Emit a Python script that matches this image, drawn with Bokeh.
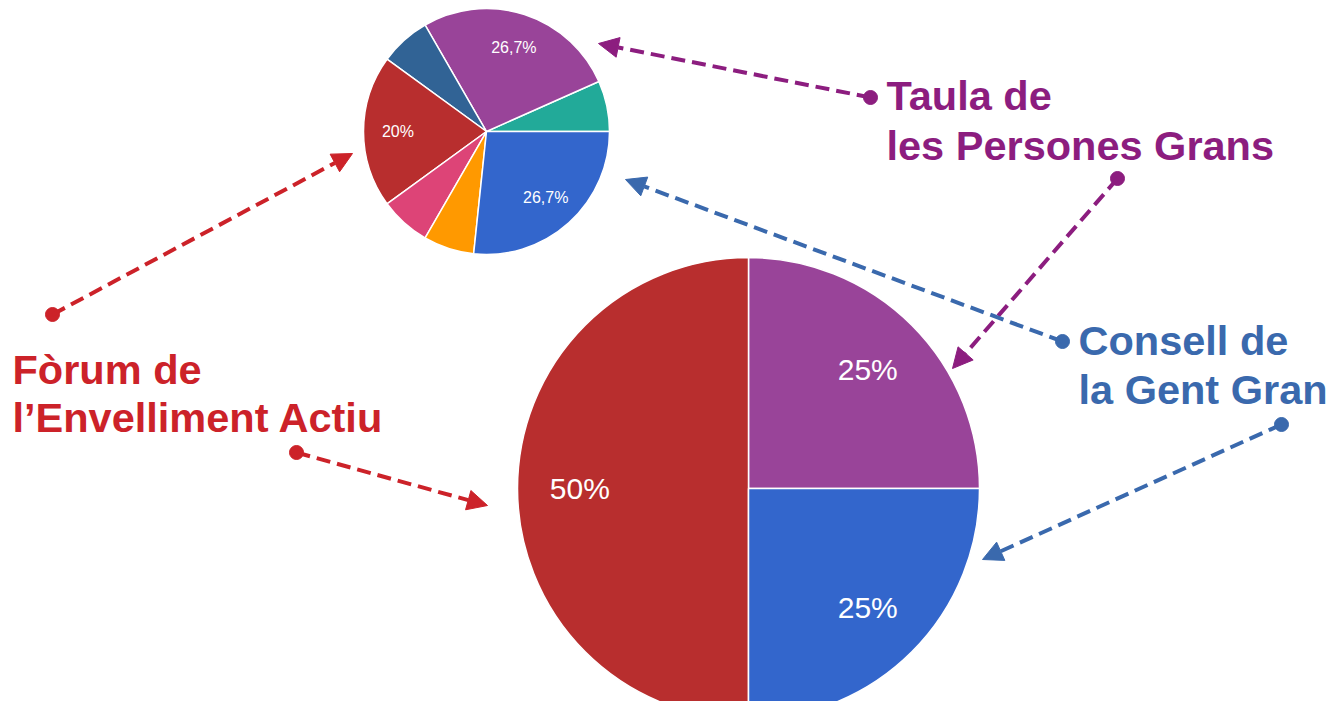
import math
from bokeh.plotting import figure
from bokeh.models import Range1d, Arrow, NormalHead, ColumnDataSource
from bokeh.core.properties import value
from bokeh.embed import file_html
from bokeh.resources import INLINE

# ---------------- data ----------------
small_slices = ["Verd", "Taula de les Persones Grans", "Blau fosc", "Fòrum de l’Envelliment Actiu",
                "Rosa", "Taronja", "Consell de la Gent Gran"]
small_values = [1, 4, 1, 3, 1, 1, 4]
small_colors = ["#22AA99", "#994499", "#316395", "#B82E2E", "#DD4477", "#FF9900", "#3366CC"]

big_slices = ["Taula de les Persones Grans", "Fòrum de l’Envelliment Actiu", "Consell de la Gent Gran"]
big_values = [1, 2, 1]
big_colors = ["#994499", "#B82E2E", "#3366CC"]

label_lines = {
    "taula": ["Taula de", "les Persones Grans"],
    "forum": ["Fòrum de", "l’Envelliment Actiu"],
    "consell": ["Consell de", "la Gent Gran"],
}

W, H = 1343, 717
PW, PH = W - 16, H - 16


def Y(y_img):
    return H - y_img


p = figure(width=PW, height=PH,
           x_range=Range1d(0, PW), y_range=Range1d(H - PH, H),
           output_backend="svg", toolbar_location=None, min_border=0,
           x_axis_type=None, y_axis_type=None)
p.grid.visible = False
p.outline_line_color = None
p.background_fill_color = "white"
p.border_fill_color = "white"


def fmt(pct):
    s = f"{pct:.1f}"
    if s.endswith(".0"):
        s = s[:-2]
    return s.replace(".", ",") + "%"


def pie(cx, cy, r, values, colors, names, font_px, label_r=0.73, min_pct=10):
    total = float(sum(values))
    starts, ends = [], []
    a = 0.0
    for v in values:
        starts.append(a)
        a += v / total * 2 * math.pi
        ends.append(a)
    src = ColumnDataSource(dict(x=[cx] * len(values), y=[cy] * len(values),
                                start=starts, end=ends, color=colors, name=names))
    p.wedge(x="x", y="y", radius=r, start_angle="start", end_angle="end",
            fill_color="color", line_color="white", line_width=1.5, source=src)
    lx, ly, lt = [], [], []
    for v, s0, s1 in zip(values, starts, ends):
        pct = v / total * 100
        if pct < min_pct:
            continue
        m = (s0 + s1) / 2
        lx.append(cx + label_r * r * math.cos(m))
        ly.append(cy + label_r * r * math.sin(m))
        lt.append(fmt(pct))
    p.text(x=lx, y=ly, text=lt, text_color="white", text_align="center",
           text_baseline="middle", text_font=value("Liberation Sans"),
           text_font_size=f"{font_px}px")


# small pie
pie(486, Y(131), 123, small_values, small_colors, small_slices, 16, label_r=0.72)
# big pie
pie(748, Y(488), 231, big_values, big_colors, big_slices, 30, label_r=0.73)

# ---------------- labels ----------------
PURPLE = "#8C1D7F"
RED = "#CC2229"
BLUE = "#3A69AD"
FS = 41.5


def block(x, y_base, lines, color, step=49):
    # y_base = baseline of first line (image coords); place the visual middle of caps
    ys = [Y(y_base + i * step - 0.358 * FS) for i in range(len(lines))]
    p.text(x=[x] * len(lines), y=ys,
           text=lines, text_color=color, text_align="left", text_baseline="middle",
           text_font=value("Liberation Sans"), text_font_style="bold",
           text_font_size=f"{FS}px")


block(886, 110, label_lines["taula"], PURPLE, step=50)
block(12, 384, label_lines["forum"], RED, step=48)
block(1078, 355, label_lines["consell"], BLUE, step=49)

# ---------------- arrows ----------------
arrows = [
    ((870, 97), (598, 43), PURPLE),
    ((1117, 178), (952, 368), PURPLE),
    ((1062, 341), (625, 179), BLUE),
    ((1281, 424), (982, 559), BLUE),
    ((52, 314), (352, 153), RED),
    ((296, 452), (487, 505), RED),
]
for (x0, y0), (x1, y1), c in arrows:
    head = NormalHead(size=20, fill_color=c, line_color=c, line_width=1)
    p.add_layout(Arrow(end=head, x_start=x0, y_start=Y(y0), x_end=x1, y_end=Y(y1),
                       line_color=c, line_width=4, line_dash="14 7"))
    p.scatter(x=[x0], y=[Y(y0)], size=14, fill_color=c, line_color=c)

open("out.html", "w").write(file_html(p, INLINE))
